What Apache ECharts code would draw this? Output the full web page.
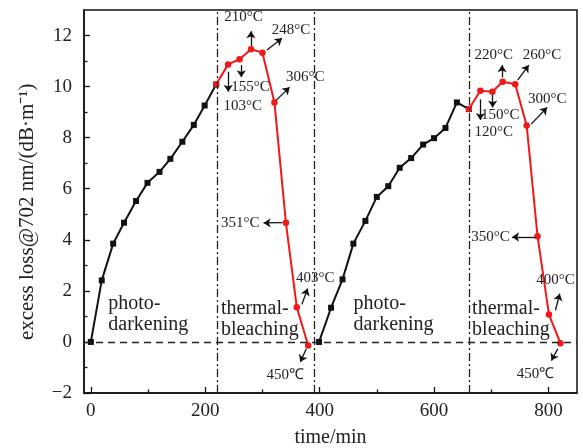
<!DOCTYPE html>
<html>
<head>
<meta charset="utf-8">
<script src="https://cdn.jsdelivr.net/npm/echarts@6/dist/echarts.min.js"></script>
<style>html,body{margin:0;padding:0;background:#fff}#c{width:583px;height:448px}</style>
</head>
<body>
<div id="c"></div>
<script>
// ---- data ----
const blackT1 = [0, 19, 39, 58, 79, 99, 120, 139, 160, 180, 199, 219];
const blackV1 = [0, 2.41, 3.85, 4.67, 5.52, 6.23, 6.66, 7.17, 7.84, 8.50, 9.26, 10.08];
const redT1 = [219, 240, 260, 280, 300, 321, 341, 360, 380];
const redV1 = [10.08, 10.87, 11.07, 11.46, 11.33, 9.38, 4.67, 1.36, -0.14];
const blackT2 = [399, 420, 440, 459, 480, 500, 520, 540, 560, 581, 600, 620, 640, 661];
const blackV2 = [0, 1.34, 2.45, 3.85, 4.74, 5.68, 6.10, 6.82, 7.20, 7.73, 7.98, 8.38, 9.38, 9.12];
const redT2 = [661, 681, 702, 720, 742, 762, 781, 801, 821];
const redV2 = [9.12, 9.84, 9.80, 10.19, 10.09, 8.48, 4.14, 1.07, -0.05];
const phaseBounds = [221, 391, 662];
const xTicks = [0, 200, 400, 600, 800];
const xMinor = [100, 300, 500, 700];
const yTicks = [-2, 0, 2, 4, 6, 8, 10, 12];
const yMinor = [-1, 1, 3, 5, 7, 9, 11];
const yName = 'excess loss@702 nm/(dB·m⁻¹)';
// annotation labels: [text, t, value]
const tempLabels = [
  ['210°C', 267, 12.74], ['248°C', 350, 12.22], ['155°C', 279, 9.97], ['103°C', 265.6, 9.24],
  ['306°C', 375, 10.36], ['351°C', 261, 4.66], ['403°C', 392.4, 2.52], ['450℃', 340, -1.3],
  ['220°C', 704.3, 11.24], ['260°C', 789, 11.24], ['150°C', 716, 8.88], ['120°C', 704.3, 8.23],
  ['300°C', 797.8, 9.51], ['350°C', 698.6, 4.11], ['400°C', 812.3, 2.44], ['450℃', 777.3, -1.24]
];
// arrows: [t1, v1, t2, v2] (from -> to)
const arrows = [
  [279.9, 11.59, 279.9, 12.17], [307.9, 11.43, 334.2, 11.89], [263, 10.84, 263, 10.37],
  [240.2, 10.58, 240.2, 9.80], [324.2, 9.47, 347.5, 9.97], [334.7, 4.67, 302, 4.66],
  [369.1, 1.47, 379, 2.09], [376.7, -0.27, 366.2, -0.79],
  [719, 10.36, 719, 10.84], [746.3, 10.25, 765.6, 10.84], [702.6, 9.67, 702.6, 9.18],
  [681, 9.50, 681, 8.69], [769.8, 8.53, 797.8, 9.18], [777.3, 4.11, 736.5, 4.11],
  [812.3, 1.24, 819.8, 1.89], [816.3, -0.27, 805.3, -0.73]
];
// phase labels: [text, t(left), value(center)]
const phaseLabels = [
  ['photo-\ndarkening', 30.4, 1.08], ['thermal-\nbleaching', 227.4, 0.9],
  ['photo-\ndarkening', 459.4, 1.08], ['thermal-\nbleaching', 666.6, 0.9]
];

const zip = (a, b) => a.map((x, i) => [x, b[i]]);
const FONT = 'Liberation Serif';
const chart = echarts.init(document.getElementById('c'), null, {renderer: 'canvas'});

const lineColor = '#111';
const red = '#f01818';

const option = {
  animation: false,
  backgroundColor: '#fff',
  grid: {left: 84, right: 6, top: 10, bottom: 55, outerBoundsMode: 'none', containLabel: false,
    show: true, borderColor: '#111', borderWidth: 1.5, backgroundColor: 'transparent'},
  xAxis: [{
    type: 'value', min: -12, max: 850,
    name: 'time/min', nameLocation: 'middle', nameGap: 35,
    nameTextStyle: {fontFamily: FONT, fontSize: 20, color: '#222'},
    axisLine: {onZero: false, lineStyle: {color: lineColor, width: 1.5}},
    axisTick: {inside: true, length: 6, customValues: xTicks, lineStyle: {color: lineColor, width: 1.3}},
    axisLabel: {customValues: xTicks, fontFamily: FONT, fontSize: 19, color: '#222', margin: 9},
    splitLine: {show: false}
  }, {
    type: 'value', min: -12, max: 850, position: 'bottom',
    axisLine: {show: false, onZero: false},
    axisTick: {inside: true, length: 3.5, customValues: xMinor, lineStyle: {color: lineColor, width: 1.3}},
    axisLabel: {show: false},
    splitLine: {show: false}
  }],
  yAxis: [{
    type: 'value', min: -2, max: 13, interval: 2,
    axisLine: {onZero: false, lineStyle: {color: lineColor, width: 1.5}},
    axisTick: {inside: true, length: 6, customValues: yTicks, lineStyle: {color: lineColor, width: 1.3}},
    axisLabel: {customValues: yTicks, fontFamily: FONT, fontSize: 19, color: '#222', margin: 12,
      formatter: v => String(v).replace('-', '−')},
    splitLine: {show: false}
  }, {
    type: 'value', min: -2, max: 13, position: 'left',
    axisLine: {show: false, onZero: false},
    axisTick: {inside: true, length: 3.5, customValues: yMinor, lineStyle: {color: lineColor, width: 1.3}},
    axisLabel: {show: false},
    splitLine: {show: false}
  }],
  series: [
    {
      type: 'line', data: zip(blackT1, blackV1), symbol: 'rect', symbolSize: 6,
      lineStyle: {color: lineColor, width: 2}, itemStyle: {color: lineColor}, z: 3,
      markLine: {
        silent: true, symbol: ['none', 'none'], label: {show: false}, animation: false,
        data: [
          ...phaseBounds.map(b => ({xAxis: b, lineStyle: {color: '#222', width: 1.3, type: [8, 3, 2, 3]}})),
          {yAxis: 0, lineStyle: {color: '#222', width: 1.3, type: [7, 5]}}
        ]
      }
    },
    {
      type: 'line', data: zip(blackT2, blackV2), symbol: 'rect', symbolSize: 6,
      lineStyle: {color: lineColor, width: 2}, itemStyle: {color: lineColor}, z: 3
    },
    {
      type: 'line', data: zip(redT1, redV1), symbol: 'circle', symbolSize: 6.5,
      lineStyle: {color: red, width: 2}, itemStyle: {color: red}, z: 4,
      markLine: {
        silent: true, symbol: ['none', 'arrow'], symbolSize: 7, label: {show: false}, animation: false,
        lineStyle: {color: '#111', width: 1.3, type: 'solid'},
        data: arrows.map(a => [{coord: [a[0], a[1]]}, {coord: [a[2], a[3]]}])
      }
    },
    {
      type: 'line', data: zip(redT2, redV2), symbol: 'circle', symbolSize: 6.5,
      lineStyle: {color: red, width: 2}, itemStyle: {color: red}, z: 4
    }
  ]
};
chart.setOption(option);

const g = [];
tempLabels.forEach(l => {
  const p = chart.convertToPixel({xAxisIndex: 0, yAxisIndex: 0}, [l[1], l[2]]);
  g.push({type: 'text', x: p[0], y: p[1], z: 10,
    style: {text: l[0], fontFamily: FONT, fontSize: 15, fill: '#222', align: 'center', verticalAlign: 'middle'}});
});
phaseLabels.forEach(l => {
  const p = chart.convertToPixel({xAxisIndex: 0, yAxisIndex: 0}, [l[1], l[2]]);
  g.push({type: 'text', x: p[0], y: p[1], z: 10,
    style: {text: l[0], fontFamily: FONT, fontSize: 20, lineHeight: 21, fill: '#222', align: 'left', verticalAlign: 'middle'}});
});
// y-axis title, placed relative to the axis scale (centre of the value range)
const yc = chart.convertToPixel({xAxisIndex: 0, yAxisIndex: 0}, [-12, 5.1]);
g.push({type: 'text', x: 27, y: yc[1], rotation: Math.PI / 2, z: 10,
  style: {text: yName, fontFamily: FONT, fontSize: 21, fill: '#222', align: 'center', verticalAlign: 'middle'}});
chart.setOption({graphic: g});
</script>
</body>
</html>
